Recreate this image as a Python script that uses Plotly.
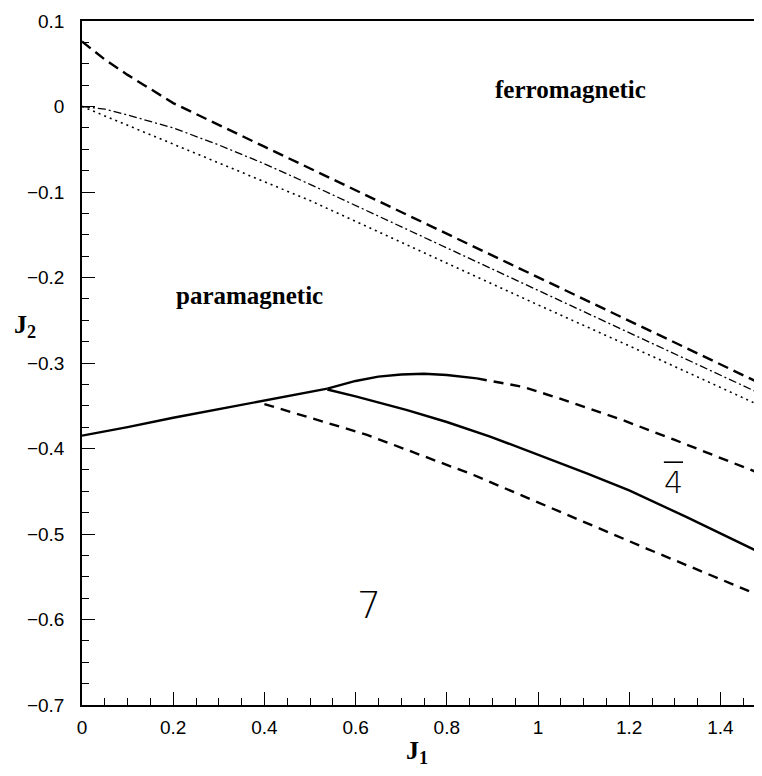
import plotly.graph_objects as go

# ---- data ----
upper_dash_x = [0, 0.05, 0.1, 0.15, 0.2, 0.4, 0.6, 0.8, 1.0, 1.2, 1.4, 1.5]
upper_dash_y = [0.076, 0.055, 0.037, 0.020, 0.004, -0.047, -0.098, -0.149, -0.200, -0.251, -0.302, -0.327]

dashdot_x = [0, 0.05, 0.1, 0.2, 0.3, 0.4, 0.5, 0.75, 1.0, 1.25, 1.5]
dashdot_y = [0, -0.003, -0.010, -0.025, -0.045, -0.067, -0.091, -0.153, -0.215, -0.277, -0.339]

dotted_x = [0, 0.1, 0.2, 0.3, 0.5, 0.75, 1.0, 1.25, 1.5]
dotted_y = [0, -0.022, -0.044, -0.066, -0.110, -0.171, -0.232, -0.292, -0.353]

solid_main_x = [0, 0.05, 0.1, 0.2, 0.3, 0.4, 0.538]
solid_main_y = [-0.385, -0.380, -0.375, -0.364, -0.354, -0.344, -0.330]

solid_upper_x = [0.538, 0.6, 0.65, 0.7, 0.75, 0.8, 0.866]
solid_upper_y = [-0.330, -0.321, -0.316, -0.3135, -0.3125, -0.314, -0.318]

mid_dash_x = [0.866, 0.968, 1.05, 1.187, 1.3, 1.4, 1.5]
mid_dash_y = [-0.318, -0.328, -0.342, -0.367, -0.390, -0.411, -0.432]

solid_lower_x = [0.538, 0.6, 0.713, 0.8, 0.895, 1.0, 1.107, 1.2, 1.325, 1.5]
solid_lower_y = [-0.331, -0.339, -0.355, -0.369, -0.386, -0.407, -0.429, -0.449, -0.480, -0.525]

low_dash_x = [0.4, 0.625, 0.859, 1.05, 1.238, 1.5]
low_dash_y = [-0.348, -0.384, -0.431, -0.474, -0.517, -0.575]

x_ticks = [0, 0.2, 0.4, 0.6, 0.8, 1.0, 1.2, 1.4]
x_tick_labels = ["0", "0.2", "0.4", "0.6", "0.8", "1", "1.2", "1.4"]
y_ticks = [0.1, 0, -0.1, -0.2, -0.3, -0.4, -0.5, -0.6, -0.7]
y_tick_labels = ["0.1", "0", "\u22120.1", "\u22120.2", "\u22120.3", "\u22120.4", "\u22120.5", "\u22120.6", "\u22120.7"]

# region label positions (data coordinates)
ferro_pos = (1.071, 0.02)
para_pos = (0.367, -0.221)
seven_pos = (0.63, -0.583)
four_pos = (1.297, -0.44)

# ---- figure ----
fig = go.Figure()

def add(x, y, width, dash):
    fig.add_trace(go.Scatter(x=x, y=y, mode="lines", showlegend=False,
                             line=dict(color="black", width=width, dash=dash)))

add(upper_dash_x, upper_dash_y, 2.4, "11px,6px")
add(dashdot_x, dashdot_y, 1.3, "8px,3px,2px,3px")
add(dotted_x, dotted_y, 1.6, "2px,4px")
add(solid_main_x, solid_main_y, 2.4, "solid")
add(solid_upper_x, solid_upper_y, 2.4, "solid")
add(mid_dash_x, mid_dash_y, 2.4, "10px,7px")
add(solid_lower_x, solid_lower_y, 2.4, "solid")
add(low_dash_x, low_dash_y, 2.4, "10px,7px")

serif_bold = dict(family="Liberation Serif", size=25, color="black", weight="bold")
fig.add_annotation(x=ferro_pos[0], y=ferro_pos[1], text="ferromagnetic", showarrow=False, font=serif_bold)
fig.add_annotation(x=para_pos[0], y=para_pos[1], text="paramagnetic", showarrow=False, font=serif_bold)
fig.add_annotation(x=seven_pos[0], y=seven_pos[1], text="7", showarrow=False,
                   font=dict(family="DejaVu Sans", size=38, color="black", weight=200))
fig.add_annotation(x=four_pos[0], y=four_pos[1], text="4", showarrow=False,
                   font=dict(family="DejaVu Sans", size=30, color="black", weight=200))
# overbar of the "4" label
fig.add_shape(type="line", xref="x", yref="y",
              x0=four_pos[0] - 0.021, x1=four_pos[0] + 0.021,
              y0=four_pos[1] + 0.024, y1=four_pos[1] + 0.024,
              line=dict(color="black", width=1.6))

fig.add_annotation(xref="paper", yref="paper", x=-0.083, y=0.554, xanchor="center", yanchor="middle",
                   text="<b>J<sub>2</sub></b>",
                   showarrow=False, font=dict(family="Liberation Serif", size=26, color="black"))
fig.add_annotation(xref="paper", yref="paper", x=0.49, y=-0.068, xanchor="center", yanchor="middle",
                   text="<b>J<sub>1</sub></b>",
                   showarrow=False, font=dict(family="Liberation Serif", size=26, color="black"))

axis_common = dict(showgrid=False, zeroline=False, showline=True, linecolor="black", linewidth=1.5,
                   mirror=True, ticks="inside", ticklen=13, tickwidth=1.3, tickcolor="black",
                   tickfont=dict(family="Liberation Sans", size=19, color="black"))

fig.update_xaxes(range=[0, 1.5], tickvals=x_ticks, ticktext=x_tick_labels,
                 minor=dict(ticks="inside", ticklen=7, dtick=0.05, tick0=0, tickcolor="black", tickwidth=1.2),
                 ticklabelstandoff=4, **axis_common)
fig.update_yaxes(range=[-0.7, 0.1], tickvals=y_ticks, ticktext=y_tick_labels,
                 minor=dict(ticks="inside", ticklen=7, dtick=0.025, tick0=0, tickcolor="black", tickwidth=1.2),
                 ticklabelstandoff=12, **axis_common)

fig.update_layout(width=762, height=776, margin=dict(l=74, r=2, t=13, b=79),
                  plot_bgcolor="white", paper_bgcolor="white")

fig.write_html("out.html")
